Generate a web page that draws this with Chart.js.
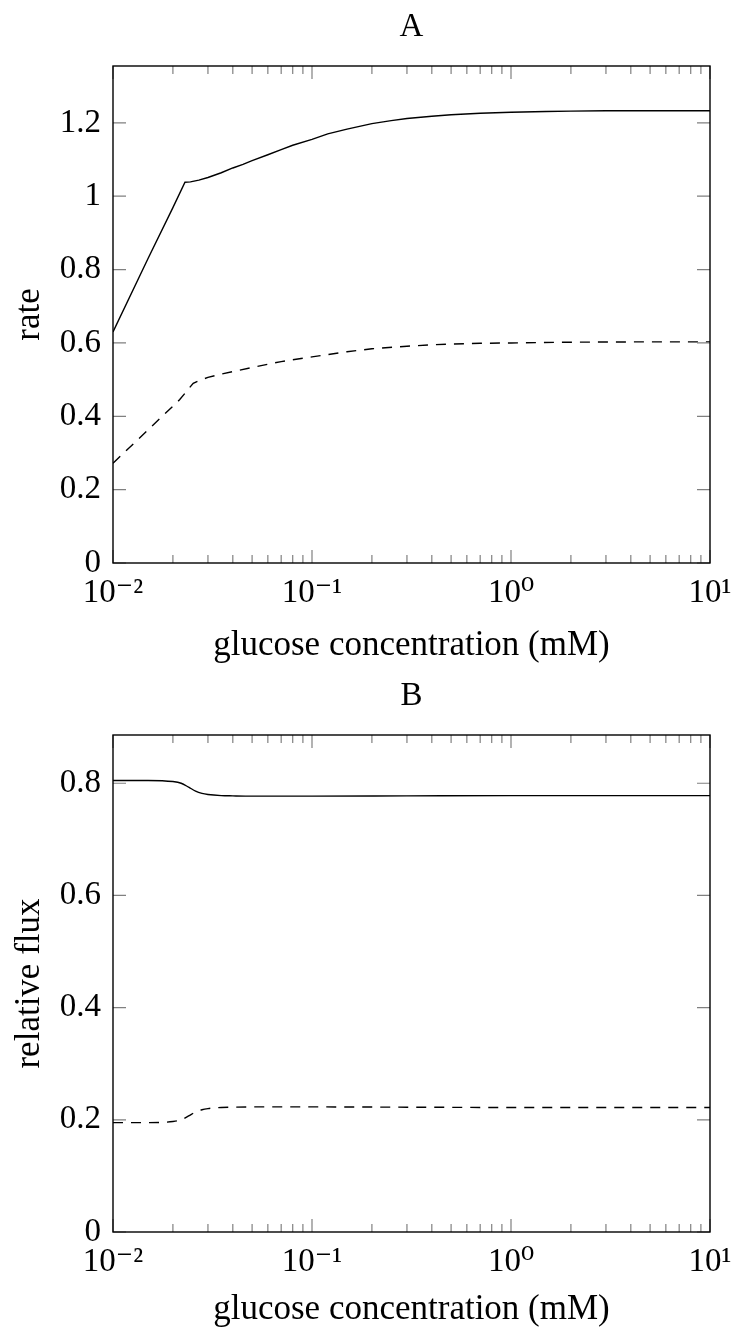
<!DOCTYPE html>
<html><head><meta charset="utf-8">
<script src="https://cdn.jsdelivr.net/npm/chart.js@4.4.1/dist/chart.umd.min.js"></script>
<style>
html,body{margin:0;padding:0;background:#fff;overflow:hidden;width:737px;height:1328px;}
.panel{position:absolute;left:0;width:737px;height:671px;}
canvas{display:block;}
</style></head>
<body>
<div class="panel" style="top:0"><canvas id="cA" width="737" height="671"></canvas></div>
<div class="panel" style="top:669px"><canvas id="cB" width="737" height="671"></canvas></div>
<script>
// ---- data ----
const glucoseA = [0.01, 0.015, 0.02, 0.023, 0.0245, 0.027, 0.03, 0.035, 0.04, 0.045, 0.05, 0.06, 0.07, 0.08, 0.1, 0.12, 0.15, 0.2, 0.25, 0.3, 0.4, 0.5, 0.7, 1, 1.5, 2, 3, 5, 10];
const rateSolid = [0.63, 0.83, 0.969, 1.038, 1.039, 1.044, 1.051, 1.064, 1.077, 1.087, 1.097, 1.113, 1.127, 1.139, 1.155, 1.170, 1.183, 1.198, 1.206, 1.212, 1.218, 1.222, 1.226, 1.229, 1.231, 1.232, 1.233, 1.233, 1.233];
const glucoseA2 = [0.01, 0.015, 0.0216, 0.0253, 0.027, 0.03, 0.035, 0.04, 0.05, 0.06, 0.07, 0.08, 0.1, 0.12, 0.15, 0.2, 0.3, 0.4, 0.5, 0.7, 1, 2, 5, 10];
const rateDashed = [0.272, 0.363, 0.445, 0.49, 0.497, 0.506, 0.515, 0.522, 0.533, 0.542, 0.549, 0.554, 0.562, 0.568, 0.576, 0.584, 0.591, 0.595, 0.597, 0.599, 0.600, 0.602, 0.603, 0.603];

const glucoseB = [0.01, 0.015, 0.02, 0.022, 0.024, 0.026, 0.028, 0.03, 0.035, 0.04, 0.05, 0.07, 0.1, 0.3, 1, 3, 10];
const fluxSolid = [0.805, 0.805, 0.803, 0.800, 0.793, 0.786, 0.782, 0.780, 0.778, 0.7775, 0.777, 0.777, 0.777, 0.7775, 0.778, 0.778, 0.778];
const fluxDashed = [0.195, 0.195, 0.197, 0.200, 0.207, 0.214, 0.218, 0.220, 0.222, 0.2225, 0.223, 0.223, 0.223, 0.2225, 0.222, 0.222, 0.222];

const xMajorTicks = [0.01, 0.1, 1, 10];
const xMajorLabels = ['10\u207B\u00B2', '10\u207B\u00B9', '10\u2070', '10\u00B9'];
const xMinorTicks = [0.02,0.03,0.04,0.05,0.06,0.07,0.08,0.09, 0.2,0.3,0.4,0.5,0.6,0.7,0.8,0.9, 2,3,4,5,6,7,8,9];
const yTicksA = [0, 0.2, 0.4, 0.6, 0.8, 1, 1.2];
const yTicksB = [0, 0.2, 0.4, 0.6, 0.8];
const yMaxA = 1.355;
const yMaxB = 0.886;
const xLabel = 'glucose concentration (mM)';

// ---- drawing ----
const FONT = "'Liberation Serif', 'DejaVu Serif', serif";

const frameTicks = {
  id: 'frameTicks',
  afterDraw(chart) {
    const {ctx, chartArea: a, scales: {x, y}} = chart;
    ctx.save();
    ctx.strokeStyle = '#808080';
    ctx.lineWidth = 1.2;
    ctx.beginPath();
    const mark = (px, len) => {
      ctx.moveTo(px, a.bottom); ctx.lineTo(px, a.bottom - len);
      ctx.moveTo(px, a.top); ctx.lineTo(px, a.top + len);
    };
    xMajorTicks.forEach(v => mark(x.getPixelForValue(v), 13));
    xMinorTicks.forEach(v => mark(x.getPixelForValue(v), 8));
    y.ticks.forEach(t => {
      const py = y.getPixelForValue(t.value);
      ctx.moveTo(a.left, py); ctx.lineTo(a.left + 13, py);
      ctx.moveTo(a.right, py); ctx.lineTo(a.right - 13, py);
    });
    ctx.stroke();
    ctx.strokeStyle = '#000';
    ctx.lineWidth = 1.4;
    ctx.strokeRect(a.left, a.top, a.right - a.left, a.bottom - a.top);
    ctx.restore();
  }
};

function pts(xs, ys) { return xs.map((v, i) => ({x: v, y: ys[i]})); }

function makeChart(id, title, yTitle, yMax, yTicks, sets, xTitleBottom) {
  return new Chart(document.getElementById(id), {
    type: 'line',
    data: {
      datasets: sets.map(s => ({
        data: pts(s.x, s.y),
        borderColor: '#000',
        borderWidth: 1.4,
        borderDash: s.dash ? [10, 8] : [],
        pointRadius: 0,
        fill: false,
        tension: 0,
        cubicInterpolationMode: s.smooth ? 'monotone' : 'default'
      }))
    },
    options: {
      responsive: false,
      devicePixelRatio: 1,
      animation: false,
      events: [],
      layout: {padding: {left: 0, right: 27, top: 0, bottom: 0}},
      plugins: {
        legend: {display: false},
        tooltip: {enabled: false},
        title: {
          display: true, text: title, fullSize: false, color: '#000',
          font: {family: FONT, size: 33, weight: 'normal'},
          padding: {top: 8, bottom: 18.4}
        }
      },
      scales: {
        x: {
          type: 'logarithmic', min: 0.01, max: 10,
          grid: {display: false, drawTicks: false},
          border: {display: false},
          afterBuildTicks: s => { s.ticks = xMajorTicks.map(v => ({value: v})); },
          afterFit: s => { s.height = 108; s.paddingLeft = 0; s.paddingRight = 0; },
          ticks: {
            color: '#000', padding: 11, maxRotation: 0, autoSkip: false,
            font: {family: FONT, size: 33},
            callback: (v) => { const i = xMajorTicks.indexOf(v); return i >= 0 ? xMajorLabels[i] : ''; }
          },
          title: {
            display: true, text: xLabel, color: '#000',
            font: {family: FONT, size: 35},
            padding: {top: 0, bottom: xTitleBottom}
          }
        },
        y: {
          min: 0, max: yMax,
          grid: {display: false, drawTicks: false},
          border: {display: false},
          afterBuildTicks: s => { s.ticks = yTicks.map(v => ({value: v})); },
          afterFit: s => { s.width = 113; },
          ticks: {
            color: '#000', padding: 12,
            font: {family: FONT, size: 33},
            callback: v => String(+Number(v).toFixed(1))
          },
          title: {
            display: true, text: yTitle, color: '#000',
            font: {family: FONT, size: 35},
            padding: {top: 9, bottom: 0}
          }
        }
      }
    },
    plugins: [frameTicks]
  });
}

makeChart('cA', 'A', 'rate', yMaxA, yTicksA, [
  {x: glucoseA, y: rateSolid, dash: false, smooth: false},
  {x: glucoseA2, y: rateDashed, dash: true, smooth: false}
], 4);
makeChart('cB', 'B', 'relative flux', yMaxB, yTicksB, [
  {x: glucoseB, y: fluxSolid, dash: false, smooth: true},
  {x: glucoseB, y: fluxDashed, dash: true, smooth: true}
], 9);
</script>
</body></html>
